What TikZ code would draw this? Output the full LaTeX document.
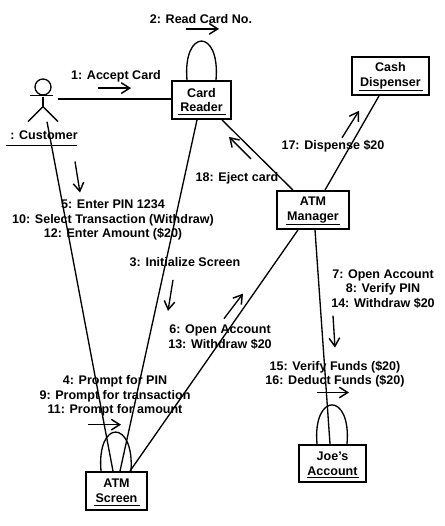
\documentclass[tikz,border=0pt]{standalone}
\usepackage{fontspec}
\setmainfont{Liberation Sans}
\usetikzlibrary{arrows.meta, calc}
\tikzset{
  objbox/.style={draw, line width=1.4pt, align=center, inner sep=0pt, font=\bfseries\fontsize{9.4}{11.2}\selectfont},
  msglabel/.style={align=center, inner sep=0pt, font=\bfseries\fontsize{9.4}{10.9}\selectfont},
  link/.style={line width=1pt},
  msg/.style={->, line width=1pt}
}

\begin{document}
\begin{tikzpicture}[x=0.75pt, y=-0.75pt, >={Straight Barb[length=2.2mm, width=2.8mm, line width=1.1pt]}]
  \useasboundingbox (0,0) rectangle (445,526);
  % objects
  \node[objbox, minimum width=44.5pt, minimum height=28.5pt] (reader) at (201.5,100) {Card\\Reader};
  \node[objbox, minimum width=58pt, minimum height=28.5pt] (dispenser) at (390.5,76) {Cash\\Dispenser};
  \node[objbox, minimum width=54pt, minimum height=28.5pt] (manager) at (313,210) {ATM\\Manager};
  \node[objbox, minimum width=46pt, minimum height=28.5pt] (screen) at (116.5,491) {ATM\\Screen};
  \node[objbox, minimum width=50pt, minimum height=28pt] (account) at (332.5,463.5) {Joe's\\Account};
  \foreach \obj/\halfwd in {reader/24, dispenser/32, manager/27, screen/23, account/26}
    \draw[link] ($(\obj.south)+(-\halfwd,-5.5)$) -- ($(\obj.south)+(\halfwd,-5.5)$);
  % actor
  \node[draw, circle, line width=1pt, minimum size=12pt, inner sep=0pt] (head) at (43,87) {};
  \node[msglabel] (customer) at (44,135) {: Customer};
  \coordinate (neck) at ($(head.south)+(0,1)$);
  \coordinate (hip) at ($(neck)+(0,10)$);
  \coordinate (hand) at ($(head.east)+(6,12)$);
  \coordinate (foot) at ($(hip)+(4,15)$);
  \draw[link] ($(head.south)+(-13,0)$) -- ($(head.south)+(10,0)$);
  \draw[link] (neck) -- (hip);
  \draw[link] ($(hip)+(-15,15)$) -- (hip) -- ($(hip)+(15,15)$);
  \draw[link] ($(customer.south)+(-38,6)$) -- ($(customer.south)+(33,6)$);
  % links
  \draw[link] (hand) -- (hand -| reader.west);
  \draw[link] (foot) -- ($(screen.north)+(-3.5,0)$);
  \draw[link] ($(reader.south)+(-4.5,0)$) -- ($(screen.north)+(3.5,0)$);
  \draw[link] ($(reader.south)+(20.5,0)$) -- ($(manager.north)+(-20,0)$);
  \draw[link] ($(manager.north)+(12,0)$) -- ($(dispenser.south)+(-11.5,0)$);
  \draw[link] ($(manager.south)+(-15,0)$) -- ($(screen.north)+(13.5,0)$);
  \draw[link] ($(manager.south)+(2,0)$) -- ($(account.north)+(-2.5,0)$);
  % self links
  \draw[link] ($(reader.north)+(-14.5,0)$) .. controls ($(reader.north)+(-19,-52)$) and ($(reader.north)+(19,-52)$) .. ($(reader.north)+(14.5,0)$);
  \draw[link] ($(screen.north)+(-15.5,0)$) .. controls ($(screen.north)+(-20,-52)$) and ($(screen.north)+(18,-52)$) .. ($(screen.north)+(14.5,0)$);
  \draw[link] ($(account.north)+(-15.5,0)$) .. controls ($(account.north)+(-20,-52)$) and ($(account.north)+(19,-52)$) .. ($(account.north)+(14.5,0)$);
  % messages
  \node[msglabel] (readcard) at (201,19) {2: Read Card No.};
  \node[msglabel] (acceptcard) at (116,76) {1: Accept Card};
  \node[msglabel] (enterpin) at (113,220) {5: Enter PIN 1234\\10: Select Transaction (Withdraw)\\12: Enter Amount (\$20)};
  \node[msglabel] (ejectcard) at (237,178) {18: Eject card};
  \node[msglabel] (dispense) at (333,146) {17: Dispense \$20};
  \node[msglabel] (initscreen) at (185,262) {3: Initialize Screen};
  \node[msglabel] (openmanager) at (383,289) {7: Open Account\\8: Verify PIN\\14: Withdraw \$20};
  \node[msglabel] (openscreen) at (220,337) {6: Open Account\\13: Withdraw \$20};
  \node[msglabel] (verifyfunds) at (335,374) {15: Verify Funds (\$20)\\16: Deduct Funds (\$20)};
  \node[msglabel] (promptpin) at (115,396) {4: Prompt for PIN\\9: Prompt for transaction\\11: Prompt for amount};
  \draw[msg] ($(readcard.south)+(-15,5)$) -- ($(readcard.south)+(18,5)$);
  \draw[msg] ($(acceptcard.south)+(-18,6)$) -- ($(acceptcard.south)+(15,6)$);
  \draw[msg] ($(enterpin.north)+(-38,-38)$) -- ($(enterpin.north)+(-33,-7)$);
  \draw[msg] ($(ejectcard.north)+(14,-13)$) -- ($(ejectcard.north)+(-8,-35)$);
  \draw[msg] ($(dispense.north)+(9,-2)$) -- ($(dispense.north)+(26,-29)$);
  \draw[msg] ($(initscreen.south)+(-12,13)$) -- ($(initscreen.south)+(-17,44)$);
  \draw[msg] ($(openscreen.north)+(4,-6)$) -- ($(openscreen.north)+(23,-31)$);
  \draw[msg] ($(openmanager.south)+(-50,7)$) -- ($(openmanager.south)+(-48,39)$);
  \draw[msg] ($(verifyfunds.south)+(-18,5)$) -- ($(verifyfunds.south)+(14,5)$);
  \draw[msg] ($(promptpin.south)+(-27,8)$) -- ($(promptpin.south)+(6,8)$);
\end{tikzpicture}
\end{document}
